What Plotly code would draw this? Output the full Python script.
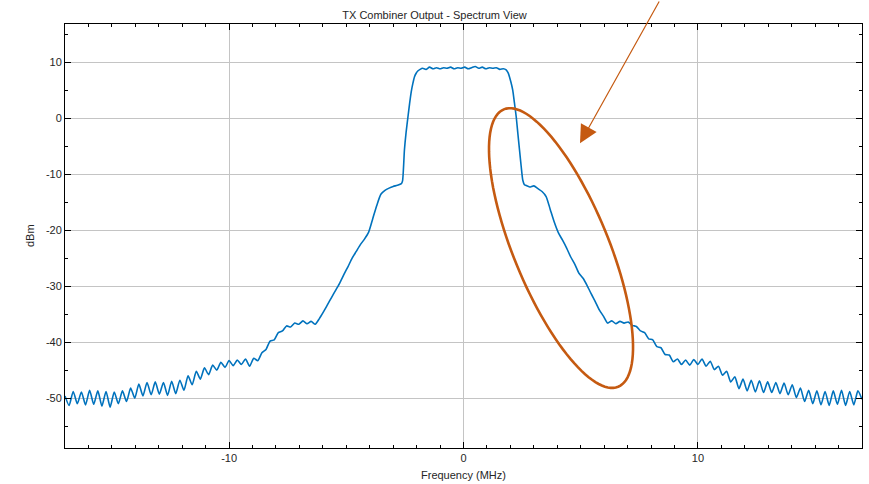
import numpy as np
import plotly.graph_objects as go

freq_left = [-17.000, -16.825, -16.650, -16.475, -16.300, -16.125, -15.950, -15.775, -15.600, -15.425,
             -15.250, -15.075, -14.900, -14.725, -14.550, -14.375, -14.200, -14.025, -13.850, -13.675,
             -13.500, -13.325, -13.150, -12.975, -12.800, -12.625, -12.450, -12.275, -12.100, -11.925,
             -11.750, -11.575, -11.400, -11.225, -11.050, -10.875, -10.700, -10.525, -10.350, -10.175,
             -10.000, -9.825, -9.650, -9.475, -9.300, -9.125, -8.950, -8.775, -8.600, -8.425,
             -8.250, -8.075, -7.900, -7.725, -7.550, -7.375, -7.200, -7.025, -6.850, -6.675,
             -6.500, -6.325, -6.150, -5.975, -5.800, -5.625, -5.450, -5.275, -5.100, -4.925,
             -4.750, -4.575, -4.400, -4.225, -4.050, -3.875, -3.700, -3.525, -3.350, -3.175,
             -3.000, -2.825, -2.650]
level_left = [-49.6, -51.3, -48.8, -51.0, -48.9, -51.2, -48.6, -51.1, -48.7, -51.4,
              -48.8, -51.6, -48.9, -51.0, -48.7, -50.6, -48.2, -50.0, -47.5, -49.6,
              -47.2, -49.4, -47.1, -49.3, -47.2, -49.5, -47.0, -49.2, -46.8, -48.6,
              -46.0, -47.6, -45.2, -46.6, -44.6, -45.8, -44.1, -45.0, -43.6, -44.5,
              -43.3, -44.2, -43.2, -44.0, -43.0, -44.3, -42.9, -43.3, -41.9, -41.3,
              -39.8, -39.6, -38.3, -38.0, -37.1, -37.3, -36.6, -36.8, -36.2, -36.7,
              -36.3, -36.8, -35.8, -34.6, -33.3, -32.0, -30.7, -29.4, -27.9, -26.5,
              -25.0, -23.8, -22.6, -21.6, -20.4, -18.0, -15.6, -13.6, -12.9, -12.5,
              -12.2, -12.0, -11.7]

freq_band = [-2.60, -2.52, -2.45, -2.37, -2.30, -2.23, -2.16, -2.09, -2.02, -1.95,
             -1.85, -1.75, -1.60, -1.45, -1.30, -1.15, -1.00, -0.85, -0.70, -0.55,
             -0.40, -0.25, -0.10, 0.05, 0.20, 0.35, 0.50, 0.65, 0.80, 0.95,
             1.10, 1.25, 1.40, 1.55, 1.70, 1.82, 1.90, 1.96, 2.03, 2.10,
             2.17, 2.25, 2.32, 2.39, 2.46, 2.53, 2.60]
level_band = [-11.2, -5.7, -2.6, 0.2, 2.6, 4.7, 6.2, 7.4, 8.0, 8.4,
              8.7, 8.9, 8.7, 9.1, 8.8, 9.0, 8.8, 9.0, 8.9, 9.1,
              8.8, 9.0, 8.9, 9.1, 8.8, 9.0, 9.2, 8.9, 9.1, 8.8,
              9.0, 8.9, 9.0, 8.7, 8.8, 8.6, 8.1, 7.4, 6.3, 5.0,
              2.8, 0.2, -2.8, -5.7, -8.6, -11.1, -11.9]

freq_right = [2.650, 2.825, 3.000, 3.175, 3.350, 3.525, 3.700, 3.875, 4.050, 4.225,
              4.400, 4.575, 4.750, 4.925, 5.100, 5.275, 5.450, 5.625, 5.800, 5.975,
              6.150, 6.325, 6.500, 6.675, 6.850, 7.025, 7.200, 7.375, 7.550, 7.725,
              7.900, 8.075, 8.250, 8.425, 8.600, 8.775, 8.950, 9.125, 9.300, 9.475,
              9.650, 9.825, 10.000, 10.175, 10.350, 10.525, 10.700, 10.875, 11.050, 11.225,
              11.400, 11.575, 11.750, 11.925, 12.100, 12.275, 12.450, 12.625, 12.800, 12.975,
              13.150, 13.325, 13.500, 13.675, 13.850, 14.025, 14.200, 14.375, 14.550, 14.725,
              14.900, 15.075, 15.250, 15.425, 15.600, 15.775, 15.950, 16.125, 16.300, 16.475,
              16.650, 16.825, 17.000]
level_right = [-12.0, -12.3, -12.1, -12.6, -13.1, -14.0, -16.3, -18.6, -20.5, -21.8,
               -23.2, -24.8, -26.1, -27.7, -28.6, -29.9, -31.4, -32.8, -34.3, -35.4,
               -36.6, -36.2, -36.7, -36.3, -36.6, -36.4, -37.0, -37.2, -38.0, -38.3,
               -39.4, -39.6, -40.8, -41.0, -42.2, -42.3, -43.5, -43.0, -44.0, -43.2,
               -44.1, -43.1, -44.0, -43.0, -44.3, -43.4, -44.9, -44.3, -45.9, -45.2,
               -47.1, -46.2, -48.3, -46.6, -48.7, -46.8, -48.9, -46.9, -49.0, -47.1,
               -49.0, -47.2, -49.2, -47.3, -49.4, -47.6, -49.9, -48.2, -50.6, -48.6,
               -51.0, -48.7, -51.2, -48.8, -51.3, -48.7, -51.1, -48.6, -51.3, -48.8,
               -51.2, -48.7, -50.2]

x_major = [-10, 0, 10]
x_labels = ["-10", "0", "10"]
y_major = [-50, -40, -30, -20, -10, 0, 10]
y_labels = ["-50", "-40", "-30", "-20", "-10", "0", "10"]

freq = freq_left + freq_band + freq_right
level = level_left + level_band + level_right

FONT = "Liberation Sans, Arial, sans-serif"
TXT = "#262626"
ORANGE = "#C55A11"

fig = go.Figure()
fig.add_trace(go.Scatter(x=freq, y=level, mode="lines",
                         line=dict(color="#0072BD", width=1.6, shape="spline", smoothing=0.6),
                         showlegend=False, hoverinfo="skip"))

axis_common = dict(showline=True, linecolor="black", linewidth=1, mirror="ticks",
                   ticks="inside", ticklen=6, tickcolor="black", tickwidth=1,
                   showgrid=True, gridcolor="#c4c4c4", gridwidth=1, zeroline=False,
                   automargin=False, tickmode="array",
                   tickfont=dict(family=FONT, size=11, color=TXT))

fig.update_xaxes(range=[-17, 17], tickvals=x_major, ticktext=x_labels,
                 minor=dict(dtick=1, ticks="inside", ticklen=3, tickcolor="black", showgrid=False),
                 **axis_common)
fig.update_yaxes(range=[-58.9, 16.8], tickvals=y_major, ticktext=y_labels,
                 minor=dict(dtick=5, ticks="inside", ticklen=3, tickcolor="black", showgrid=False),
                 **axis_common)

# Axis titles
fig.add_annotation(text="Frequency (MHz)", xref="paper", yref="paper", x=0.5, y=0,
                   yshift=-27, xanchor="center", yanchor="middle", showarrow=False,
                   font=dict(family=FONT, size=11, color=TXT))
fig.add_annotation(text="dBm", xref="paper", yref="paper", x=0, y=0.5, xshift=-35,
                   xanchor="center", yanchor="middle", textangle=-90, showarrow=False,
                   font=dict(family=FONT, size=11, color=TXT))

# Annotation ellipse (drawn in pixels around an anchor point)
a_px, b_px, theta = 150.0, 47.4, np.deg2rad(67.6)
t = np.linspace(0, 2 * np.pi, 121)
xs = a_px * np.cos(t) * np.cos(theta) - b_px * np.sin(t) * np.sin(theta)
ys = a_px * np.cos(t) * np.sin(theta) + b_px * np.sin(t) * np.cos(theta)
path = "M " + " L ".join(f"{x:.2f},{-y:.2f}" for x, y in zip(xs, ys)) + " Z"
fig.add_shape(type="path", xref="x", yref="y", xsizemode="pixel", ysizemode="pixel",
              xanchor=4.16, yanchor=-23.2, path=path,
              line=dict(color=ORANGE, width=2.6), fillcolor="rgba(0,0,0,0)")

fig.add_annotation(x=4.97, y=-4.5, xref="x", yref="y", text="", showarrow=True,
                   ax=80, ay=-152, arrowhead=2, arrowsize=3, arrowwidth=1.2,
                   arrowcolor=ORANGE, standoff=0)

fig.update_layout(
    width=869, height=484,
    margin=dict(l=65, r=7, t=24, b=36, autoexpand=False),
    paper_bgcolor="white", plot_bgcolor="white",
    title=dict(text="TX Combiner Output - Spectrum View", x=0.5, xanchor="center",
               y=1 - 15 / 484, yanchor="middle",
               font=dict(family=FONT, size=11, color=TXT)),
)

fig.write_html("out.html", config={"displayModeBar": False},
               post_script="document.body.style.margin='0';")
